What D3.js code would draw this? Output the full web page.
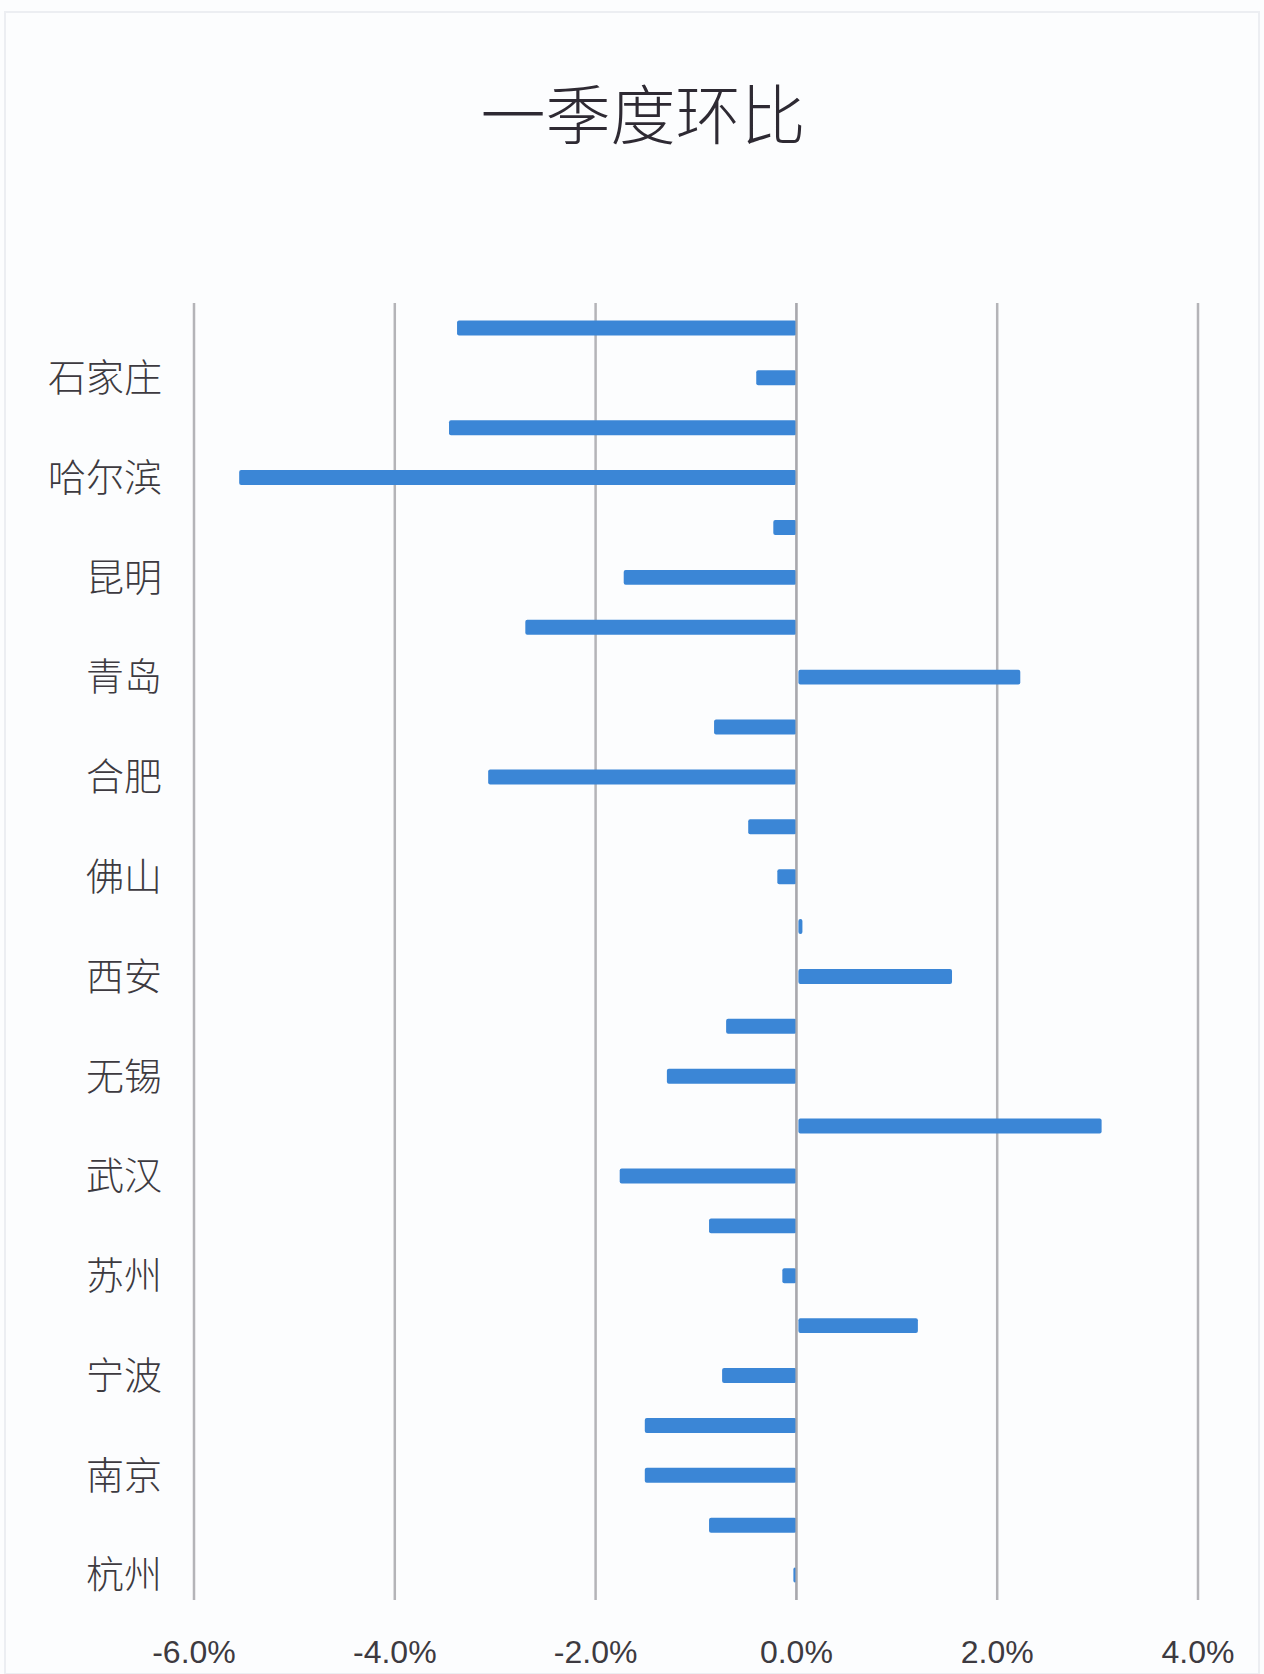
<!DOCTYPE html>
<html>
<head>
<meta charset="utf-8">
<script src="https://cdn.jsdelivr.net/npm/d3@7"></script>
<style>
  html, body { margin: 0; padding: 0; background: #ffffff; }
  svg { display: block; }
</style>
</head>
<body>
<script>
// Categories from top to bottom; only every other label is shown in the source chart
const categories = [
  null, "石家庄", null, "哈尔滨", null, "昆明", null, "青岛", null, "合肥",
  null, "佛山", null, "西安", null, "无锡", null, "武汉", null, "苏州",
  null, "宁波", null, "南京", null, "杭州"
];
// Quarter-on-quarter change (fraction), same order as categories
const values = [
  -0.0338, -0.0040, -0.0346, -0.0555, -0.0023, -0.0172, -0.0270, 0.0221, -0.0082, -0.0307,
  -0.0048, -0.0019, 0.0004, 0.0153, -0.0070, -0.0129, 0.0302, -0.0176, -0.0087, -0.0014,
  0.0119, -0.0074, -0.0151, -0.0151, -0.0087, -0.0003
];
const tickValues = [-0.06, -0.04, -0.02, 0, 0.02, 0.04];
const title = "一季度环比";

const W = 1264, H = 1674;
const plot = { left: 194, right: 1198, top: 303, bottom: 1600 };

const svg = d3.select("body").append("svg")
  .attr("width", W).attr("height", H);

svg.append("rect").attr("x", 0).attr("y", 0).attr("width", W).attr("height", H)
  .attr("fill", "#fcfdfe");
svg.append("rect").attr("x", 5).attr("y", 12).attr("width", W - 10).attr("height", H - 12)
  .attr("fill", "none").attr("stroke", "#eceef2").attr("stroke-width", 2);

const x = d3.scaleLinear().domain([-0.06, 0.04]).range([plot.left, plot.right]);
const y = d3.scaleBand().domain(d3.range(categories.length))
  .range([plot.top, plot.bottom]).paddingInner(0.7).paddingOuter(0.35);

// Title
svg.append("text")
  .attr("x", 643).attr("y", 139)
  .attr("text-anchor", "middle")
  .attr("font-family", "'Noto Sans CJK SC', sans-serif")
  .attr("font-weight", 300)
  .attr("font-size", 65)
  .attr("fill", "#2e2a33")
  .text(title);

// Gridlines
svg.append("g").selectAll("line").data(tickValues).join("line")
  .attr("x1", d => x(d)).attr("x2", d => x(d))
  .attr("y1", plot.top).attr("y2", plot.bottom)
  .attr("stroke", "#b4b4b8").attr("stroke-width", 2.5);

// Bars
svg.append("g").selectAll("rect").data(values).join("rect")
  .attr("x", d => Math.min(x(d), x(0)) + (d > 0 ? 2 : 0))
  .attr("y", (d, i) => y(i))
  .attr("width", d => Math.max(Math.abs(x(d) - x(0)), 3))
  .attr("height", y.bandwidth())
  .attr("rx", 2)
  .attr("fill", "#3b86d6");

// Zero axis line
svg.append("line")
  .attr("x1", x(0)).attr("x2", x(0))
  .attr("y1", plot.top).attr("y2", plot.bottom)
  .attr("stroke", "#a8a8ad").attr("stroke-width", 2);

// Category labels (every other one)
svg.append("g").selectAll("text")
  .data(categories.map((c, i) => ({ c, i })).filter(d => d.c))
  .join("text")
  .attr("x", 162)
  .attr("y", d => y(d.i) + y.bandwidth() / 2)
  .attr("dy", "0.35em")
  .attr("text-anchor", "end")
  .attr("font-family", "'Noto Sans CJK SC', sans-serif")
  .attr("font-weight", 300)
  .attr("font-size", 38)
  .attr("fill", "#3d3a40")
  .text(d => d.c);

// Bottom tick labels
const fmt = d3.format(".1%");
svg.append("g")
  .selectAll("text").data(tickValues).join("text")
  .attr("x", d => x(d))
  .attr("y", 1663)
  .attr("text-anchor", "middle")
  .attr("font-family", "'Liberation Sans', Arial, sans-serif")
  .attr("font-size", 32)
  .attr("fill", "#3d3a40")
  .text(d => fmt(d).replace("−", "-"));
</script>
</body>
</html>
